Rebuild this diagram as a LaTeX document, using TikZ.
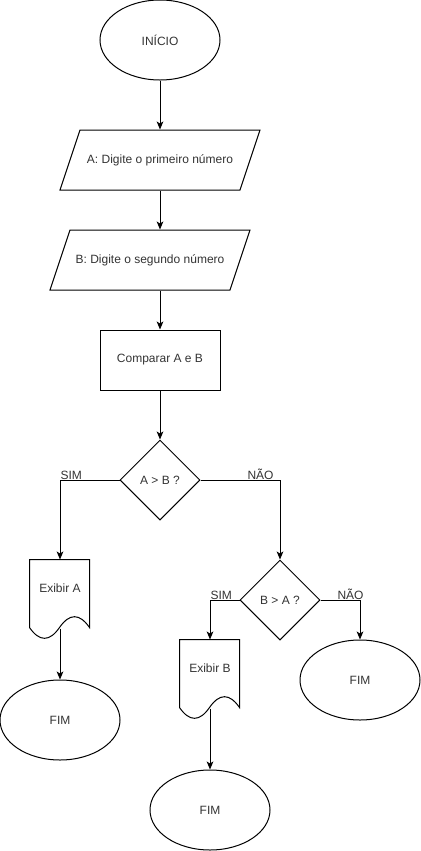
\documentclass[tikz,border=0pt]{standalone}
\usepackage{fontspec}
\setmainfont{Liberation Sans}
\usetikzlibrary{shapes.geometric, arrows.meta}

\tikzset{
	terminal/.style = {draw, ellipse, minimum width=90pt, minimum height=60pt, inner sep=0pt},
	inputbox/.style = {draw, trapezium, trapezium left angle=71.57, trapezium right angle=108.43, trapezium stretches body, minimum width=150pt, inner xsep=2pt, inner ysep=18pt, text height=7pt, text depth=2pt},
	process/.style = {draw, rectangle, minimum width=90pt, minimum height=45pt},
	decision/.style = {draw, diamond, aspect=1, minimum width=60pt, minimum height=60pt, inner sep=0pt},
	docbox/.style = {minimum width=45pt, inner xsep=0pt, inner ysep=2pt, text height=22pt, text depth=34pt},
	branch/.style = {anchor=base west, inner sep=0pt},
	flow/.style = {->},
	pics/docwave/.style = {code = {
		\draw (0,0) -- (60,0) -- (60,68) .. controls (50,53.6) and (40,53.6) .. (30,68) .. controls (20,82.4) and (10,82.4) .. (0,68) -- cycle;
	}}
}

\begin{document}
\begin{tikzpicture}[x=0.75pt, y=-0.75pt, line width=0.75pt, text=black!80, font=\fontsize{9pt}{11pt}\selectfont, >={Stealth[length=6pt, width=5pt, inset=1.5pt]}]
	\useasboundingbox (0,0) rectangle (421,851);
	\node[terminal] (start) at (160,40) {INÍCIO};
	\node[inputbox] (inA) at (160,160) {A: Digite o primeiro número};
	\node[inputbox] (inB) at (150,260) {B: Digite o segundo número};
	\node[process] (cmp) at (160,360) {Comparar A e B};
	\node[decision] (ab) at (160,480) {A > B ?};
	\node[docbox] (showA) at (60,600) {Exibir A};
	\node[decision] (ba) at (280,600) {B > A ?};
	\node[docbox] (showB) at (210,680) {Exibir B};
	\node[terminal] (endA) at (60,720) {FIM};
	\node[terminal] (endB) at (210,810) {FIM};
	\node[terminal] (endC) at (360,680) {FIM};
	\pic at (showA.north west) {docwave};
	\pic at (showB.north west) {docwave};
	\draw[flow] (start.south) -- (start.south |- inA.north);
	\draw[flow] (inA.south -| cmp.north) -- (inB.north -| cmp.north);
	\draw[flow] (inB.south -| cmp.north) -- (cmp.north);
	\draw[flow] (cmp.south) -- (ab.north);
	\draw[flow] (ab.west) -| (showA.north);
	\draw[flow] (ab.east) -| (ba.north);
	\draw[flow] (ba.west) -| (showB.north);
	\draw[flow] (ba.east) -| (endC.north);
	\draw[flow] ([yshift=9pt]showA.south) -- (endA.north);
	\draw[flow] ([yshift=9pt]showB.south) -- (endB.north);
	\node[branch] (simA) at (60,479) {SIM};
	\node[branch] (naoA) at (247,479) {NÃO};
	\node[branch] (simB) at (210,599) {SIM};
	\node[branch] (naoB) at (337,599) {NÃO};
\end{tikzpicture}
\end{document}
